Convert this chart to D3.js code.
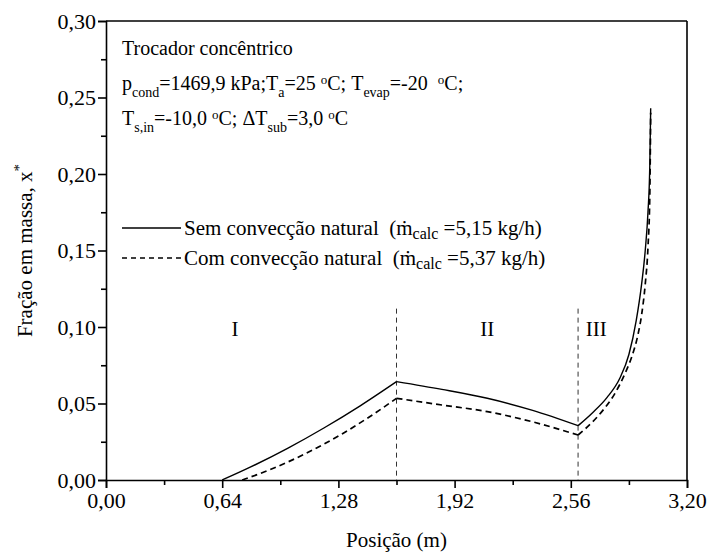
<!DOCTYPE html>
<html>
<head>
<meta charset="utf-8">
<script src="https://cdn.jsdelivr.net/npm/d3@7"></script>
<style>
  body { margin: 0; background: #fff; }
</style>
</head>
<body>
<div id="chart"></div>
<script>
// data
const xTicks = [0, 0.64, 1.28, 1.92, 2.56, 3.20];
const yTicks = [0, 0.05, 0.10, 0.15, 0.20, 0.25, 0.30];
const regionBreaks = [1.60, 2.60];
const regionNames = ['I', 'II', 'III'];
const regionLabelX = [0.71, 2.10, 2.70];

const semPos = [0.64, 0.80, 1.00, 1.20, 1.40, 1.60, 1.85, 2.10, 2.35, 2.60,
  2.68, 2.76, 2.83, 2.88, 2.92, 2.95, 2.97, 2.985, 2.995, 3.00];
const semVal = [0, 0.0087, 0.0207, 0.0340, 0.0485, 0.0643, 0.0592, 0.0534, 0.0455, 0.0355,
  0.0440, 0.0540, 0.0665, 0.0820, 0.1040, 0.1280, 0.1500, 0.1750, 0.2050, 0.2430];

const comPos = [0.75, 0.90, 1.10, 1.30, 1.45, 1.60, 1.85, 2.10, 2.35, 2.60,
  2.68, 2.74, 2.80, 2.86, 2.90, 2.93, 2.95, 2.97, 2.985, 2.995, 3.00];
const comVal = [0, 0.0066, 0.0173, 0.0301, 0.0412, 0.0534, 0.049, 0.0447, 0.038, 0.0294,
  0.038, 0.046, 0.056, 0.070, 0.082, 0.095, 0.108, 0.128, 0.152, 0.185, 0.240];

const FONT = '"Liberation Serif", "Times New Roman", Times, serif';
const NB = '\u00a0';

const option = {
  width: 709,
  height: 559,
  margin: {top: 21, right: 22, bottom: 79, left: 106}
};

const innerW = option.width - option.margin.left - option.margin.right;
const innerH = option.height - option.margin.top - option.margin.bottom;

const root = d3.select('#chart')
    .append('svg')
    .attr('width', option.width)
    .attr('height', option.height)
    .style('font-family', FONT);

const svg = root.append('g')
    .attr('transform', `translate(${option.margin.left},${option.margin.top})`);

const x = d3.scaleLinear().domain([0, 3.2]).range([0, innerW]);
const y = d3.scaleLinear().domain([0, 0.3]).range([innerH, 0]);

const fmt = (d) => d3.format('.2f')(d).replace('.', ',');

// minor ticks
const xMinor = d3.range(0.32, 3.2, 0.64);
const yMinor = d3.range(0.025, 0.3, 0.05);

svg.append('g')
    .attr('transform', `translate(0,${innerH})`)
    .call(d3.axisBottom(x).tickValues(xTicks).tickFormat(fmt).tickSize(8).tickPadding(4));
svg.append('g')
    .attr('transform', `translate(0,${innerH})`)
    .call(d3.axisBottom(x).tickValues(xMinor).tickFormat('').tickSize(5))
    .select('.domain').remove();

svg.append('g')
    .call(d3.axisLeft(y).tickValues(yTicks).tickFormat(fmt).tickSize(8).tickPadding(2));
svg.append('g')
    .call(d3.axisLeft(y).tickValues(yMinor).tickFormat('').tickSize(5))
    .select('.domain').remove();

svg.selectAll('g').attr('font-family', null);
svg.selectAll('.domain').attr('stroke', '#000').attr('stroke-width', 1.6);
svg.selectAll('.tick line').attr('stroke', '#000').attr('stroke-width', 1.6);
svg.selectAll('.tick text').attr('font-size', 22).attr('fill', '#000')
    .style('font-family', FONT);

// top and right frame
svg.append('line').attr('x1', 0).attr('x2', innerW).attr('y1', 0).attr('y2', 0)
    .attr('stroke', '#000').attr('stroke-width', 1.6);
svg.append('line').attr('x1', innerW).attr('x2', innerW).attr('y1', 0).attr('y2', innerH)
    .attr('stroke', '#000').attr('stroke-width', 1.6);

// region separators
svg.selectAll('.sep')
    .data(regionBreaks)
    .enter()
    .append('line')
    .attr('class', 'sep')
    .attr('x1', (d) => x(d)).attr('x2', (d) => x(d))
    .attr('y1', y(0.112)).attr('y2', y(0))
    .attr('stroke', '#333')
    .attr('stroke-width', 1)
    .attr('stroke-dasharray', '5,4');

svg.selectAll('.region')
    .data(regionNames)
    .enter()
    .append('text')
    .attr('class', 'region')
    .attr('x', (d, i) => x(regionLabelX[i]))
    .attr('y', y(0.094))
    .attr('text-anchor', 'middle')
    .attr('font-size', 21)
    .text((d) => d);

// split a series into pieces at region breaks (break point shared)
const segments = (pos, val) => {
  const edges = [-Infinity, ...regionBreaks, Infinity];
  const out = [];
  for (let k = 0; k < edges.length - 1; k++) {
    const pts = [];
    pos.forEach((p, i) => {
      if (p >= edges[k] - 1e-9 && p <= edges[k + 1] + 1e-9) pts.push([p, val[i]]);
    });
    if (pts.length > 1) out.push(pts);
  }
  return out;
};

const line = d3.line()
    .x((d) => x(d[0]))
    .y((d) => y(d[1]))
    .curve(d3.curveMonotoneX);

segments(semPos, semVal).forEach((seg) => {
  svg.append('path').attr('d', line(seg))
      .attr('fill', 'none').attr('stroke', '#000').attr('stroke-width', 1.4);
});
segments(comPos, comVal).forEach((seg) => {
  svg.append('path').attr('d', line(seg))
      .attr('fill', 'none').attr('stroke', '#000').attr('stroke-width', 1.7)
      .attr('stroke-dasharray', '6,4');
});

// annotation block
const note = svg.append('g').attr('font-size', 20);
const addRich = (yy, parts) => {
  const t = note.append('text').attr('x', 16).attr('y', yy);
  parts.forEach(([s, kind]) => {
    const sp = t.append('tspan').text(s);
    if (kind === 'sub') sp.attr('font-size', 14).attr('dy', 7);
    if (kind === 'sup') sp.attr('font-size', 13).attr('dy', -6);
    if (kind === 'back') sp.attr('dy', -7);
    if (kind === 'down') sp.attr('dy', 6);
  });
};
note.append('text').attr('x', 16).attr('y', 34).text('Trocador concêntrico');
addRich(69, [['p'], ['cond', 'sub'], ['=1469,9 kPa;T', 'back'], ['a', 'sub'],
  [`=25${NB}`, 'back'], ['o', 'sup'], [`C;${NB}T`, 'down'], ['evap', 'sub'],
  [`=-20${NB}${NB}`, 'back'], ['o', 'sup'], ['C;', 'down']]);
addRich(104, [['T'], ['s,in', 'sub'], [`=-10,0${NB}`, 'back'], ['o', 'sup'],
  [`C;${NB}ΔT`, 'down'], ['sub', 'sub'], [`=3,0${NB}`, 'back'], ['o', 'sup'], ['C', 'down']]);

// legend
const legend = svg.append('g').attr('font-size', 21);
const legendRows = [
  {dash: null, label: `Sem convecção natural${NB}${NB}(ṁ`, val: `${NB}=5,15 kg/h)`},
  {dash: '5,4', label: `Com convecção natural${NB}${NB}(ṁ`, val: `${NB}=5,37 kg/h)`}
];
legendRows.forEach((r, i) => {
  const yy = 207 + i * 30;
  legend.append('line')
      .attr('x1', 16).attr('x2', 75).attr('y1', yy).attr('y2', yy)
      .attr('stroke', '#000').attr('stroke-width', 1.3)
      .attr('stroke-dasharray', r.dash);
  const t = legend.append('text').attr('x', 78).attr('y', yy + 7);
  t.append('tspan').text(r.label);
  t.append('tspan').text('calc').attr('font-size', 16).attr('dy', 4);
  t.append('tspan').text(r.val).attr('dy', -4);
});

// axis titles
svg.append('text')
    .attr('x', innerW / 2)
    .attr('y', innerH + 67)
    .attr('text-anchor', 'middle')
    .attr('font-size', 21)
    .text('Posição (m)');

const yt = svg.append('text')
    .attr('transform', `translate(${-74},${innerH / 2}) rotate(-90)`)
    .attr('text-anchor', 'middle')
    .attr('font-size', 21);
yt.append('tspan').text('Fração em massa, x');
yt.append('tspan').text('*').attr('font-size', 15).attr('dy', -8);
</script>
</body>
</html>
